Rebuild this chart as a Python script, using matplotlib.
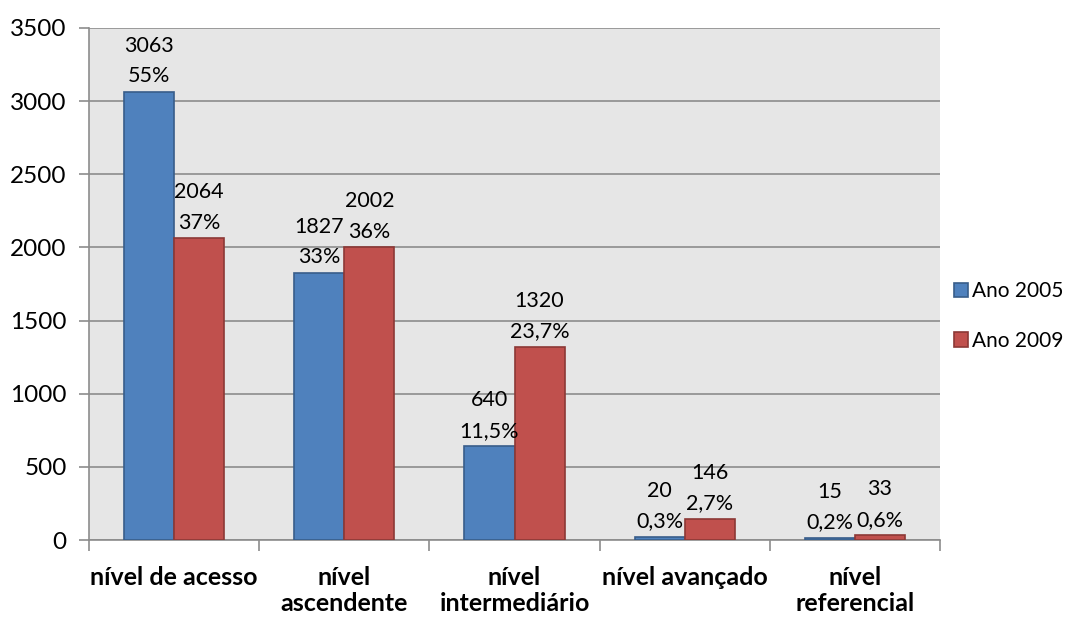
import matplotlib.pyplot as plt
import numpy as np

plt.rcParams['font.family'] = ['Lato', 'DejaVu Sans']

categorias = ['nível de acesso', 'nível\nascendente', 'nível\nintermediário',
              'nível avançado', 'nível\nreferencial']
ano_2005 = [3063, 1827, 640, 20, 15]
ano_2009 = [2064, 2002, 1320, 146, 33]
pct_2005 = ['55%', '33%', '11,5%', '0,3%', '0,2%']
pct_2009 = ['37%', '36%', '23,7%', '2,7%', '0,6%']

azul = '#4F81BD'
vermelho = '#C0504D'

fig = plt.figure(figsize=(10.7, 6.18), dpi=100)
ax = fig.add_axes([0.0832, 0.1262, 0.7953, 0.8285])
ax.set_facecolor('#E6E6E6')

x = np.arange(len(categorias))
w = 0.294
b1 = ax.bar(x - w / 2, ano_2005, w, color=azul, edgecolor='#385D8A', linewidth=1.2,
            label='Ano 2005', zorder=3)
b2 = ax.bar(x + w / 2, ano_2009, w, color=vermelho, edgecolor='#8C3836', linewidth=1.2,
            label='Ano 2009', zorder=3)

# rótulos: valor em cima, percentual embaixo
for barras, vals, pcts in [(b1, ano_2005, pct_2005), (b2, ano_2009, pct_2009)]:
    for r, v, p in zip(barras, vals, pcts):
        cx = r.get_x() + r.get_width() / 2
        ax.annotate(f'{v}\n{p}', (cx, v), xytext=(0, 4), textcoords='offset points',
                    ha='center', va='bottom', fontsize=15.5, linespacing=1.65,
                    color='black', zorder=4)

ax.set_xlim(-0.5, len(categorias) - 0.5)
ax.set_ylim(0, 3500)
ax.set_yticks(range(0, 3501, 500))
ax.yaxis.grid(True, color='#8C8C8C', linewidth=1.2, zorder=0)
ax.tick_params(axis='y', labelsize=17.5, length=7, color='#8C8C8C', pad=9, width=1.2)

ax.set_xticks(np.arange(-0.5, len(categorias), 1))
ax.set_xticklabels([])
ax.set_xticks(x, minor=True)
ax.set_xticklabels(categorias, minor=True, fontsize=18, fontweight='bold',
                   va='top', linespacing=1.15)
ax.tick_params(axis='x', which='major', length=8, color='#8C8C8C', width=1.2)
ax.tick_params(axis='x', which='minor', length=0, pad=19)

for s in ['top', 'right']:
    ax.spines[s].set_visible(False)
for s in ['left', 'bottom']:
    ax.spines[s].set_color('#8C8C8C')
    ax.spines[s].set_linewidth(1.2)

ax.legend(loc='center left', bbox_to_anchor=(1.016, 0.4375), frameon=False,
          fontsize=15, handlelength=0.7, handleheight=0.7, handletextpad=0.2,
          labelspacing=1.4, borderpad=0, borderaxespad=0)

fig.savefig('out.png', dpi=100)
